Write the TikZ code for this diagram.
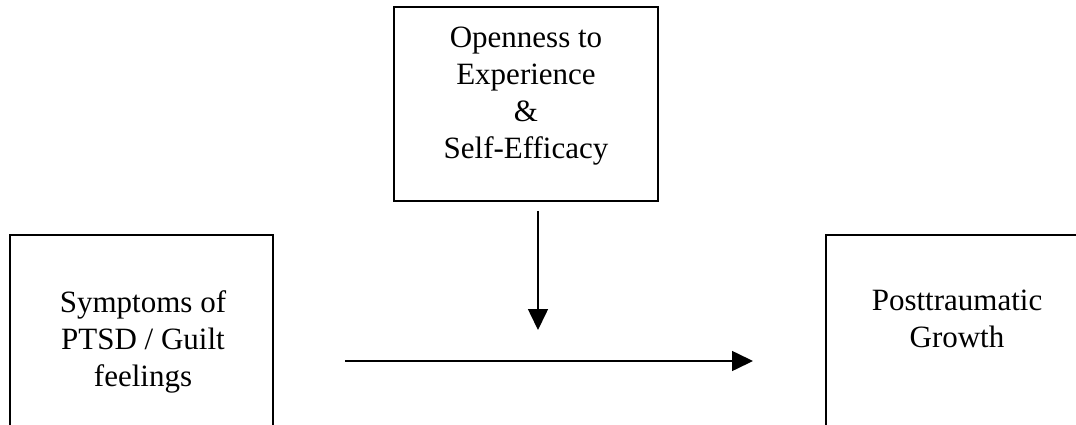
\documentclass[tikz,border=0pt]{standalone}
\usepackage{fontspec}
\setmainfont{Liberation Serif}
\usetikzlibrary{arrows.meta}
\begin{document}
\begin{tikzpicture}[x=1pt,y=-1pt,
  box/.style={draw=black, line width=1.5pt, fill=none, inner sep=0pt},
  label/.style={align=center, inner sep=0pt, font=\fontsize{31}{37}\selectfont},
  link/.style={draw=black, line width=1.6pt, -{Triangle[length=21pt,width=20pt]}}]
  \useasboundingbox (0,0) rectangle (1076,425);
  \clip (0,0) rectangle (1076,425);

  % boxes (the two lower ones run past the page edges)
  \node[box, minimum width=264pt, minimum height=194pt] (moderator) at (526,104) {};
  \node[box, minimum width=263pt, minimum height=220pt] (cause) at (141.5,345) {};
  \node[box, line width=2pt, minimum width=264pt, minimum height=220pt] (effect) at (958,345) {};

  % box texts
  \node[label] (moderatortext) at (526,96.5) {Openness to\\Experience\\\&\\Self-Efficacy};
  \node[label] (causetext) at (143,342) {Symptoms of\\PTSD / Guilt\\feelings};
  \node[label] (effecttext) at (957,319) {Posttraumatic\\Growth};

  % free ends of the two arrows
  \coordinate (modstart) at ([xshift=12pt,yshift=-9pt]moderator.south);
  \coordinate (modend) at (538,330);
  \coordinate (pathstart) at (345,361);
  \coordinate (pathend) at (753,361);

  \draw[link] (modstart) -- (modend);
  \draw[link] (pathstart) -- (pathend);
\end{tikzpicture}
\end{document}
